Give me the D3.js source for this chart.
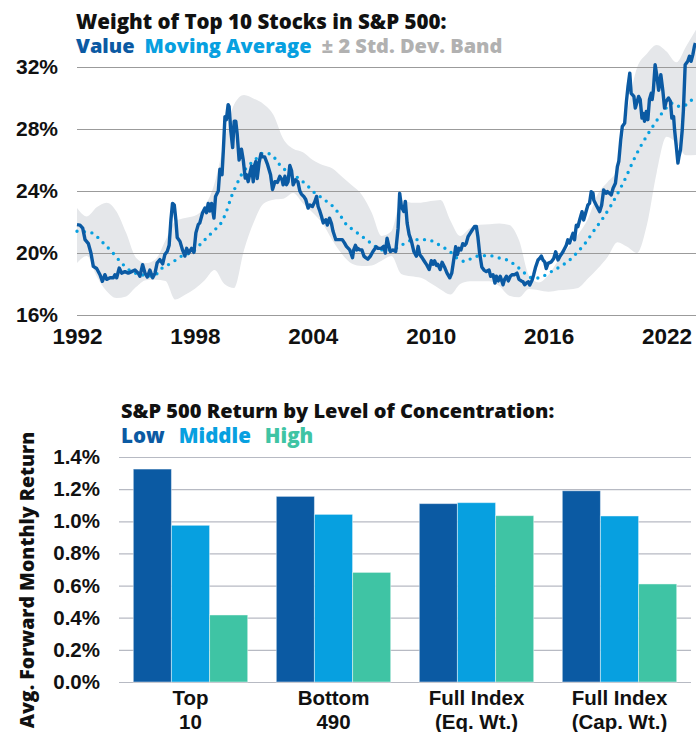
<!DOCTYPE html>
<html>
<head>
<meta charset="utf-8">
<script src="https://cdn.jsdelivr.net/npm/d3@7"></script>
<style>
  body { margin: 0; background: #fff; }
  svg { display: block; font-family: "Open Sans", "Noto Sans", sans-serif; font-weight: 800; }
</style>
</head>
<body>
<div id="chart"></div>
<script>
// top chart: weight of top 10 stocks (%)
var valueSeries = [
  [1992.00, 21.83], [1992.15, 21.8], [1992.29, 21.6], [1992.41, 20.86], [1992.58, 20.6], [1992.71, 20.0],
  [1992.83, 19.14], [1993.0, 19.0], [1993.17, 18.6], [1993.29, 18.17], [1993.42, 18.6], [1993.51, 18.3],
  [1993.68, 18.4], [1993.85, 18.4], [1993.93, 18.6], [1994.02, 18.4], [1994.15, 19.03], [1994.27, 18.7],
  [1994.44, 18.8], [1994.61, 18.7], [1994.78, 18.8], [1994.95, 18.9], [1995.12, 18.7], [1995.2, 18.5],
  [1995.34, 19.25], [1995.46, 18.7], [1995.58, 18.45], [1995.71, 18.9], [1995.85, 18.4], [1995.97, 18.7],
  [1996.08, 19.37], [1996.22, 19.57], [1996.36, 19.3], [1996.47, 19.9], [1996.59, 20.1], [1996.69, 20.5],
  [1996.78, 22.15], [1996.86, 23.2], [1996.95, 23.1], [1997.03, 22.15], [1997.1, 21.0], [1997.24, 20.75],
  [1997.37, 20.2], [1997.49, 19.8], [1997.58, 20.3], [1997.69, 20.0], [1997.83, 20.3], [1997.95, 20.04],
  [1998.05, 21.3], [1998.17, 21.83], [1998.25, 21.94], [1998.39, 22.6], [1998.51, 22.9], [1998.59, 22.6],
  [1998.68, 23.2], [1998.76, 22.7], [1998.85, 23.2], [1998.97, 22.25], [1999.05, 23.65], [1999.19, 24.0],
  [1999.27, 25.4], [1999.38, 25.05], [1999.45, 26.7], [1999.53, 28.8], [1999.6, 28.6], [1999.69, 29.57],
  [1999.74, 29.45], [1999.83, 27.85], [1999.92, 26.8], [2000.0, 28.5], [2000.08, 28.5], [2000.15, 27.7],
  [2000.25, 26.0], [2000.37, 26.7], [2000.46, 26.0], [2000.56, 24.84], [2000.63, 25.05], [2000.71, 24.6],
  [2000.8, 25.15], [2000.88, 25.6], [2000.97, 24.6], [2001.02, 25.6], [2001.1, 25.9], [2001.17, 24.8],
  [2001.27, 25.85], [2001.36, 26.4], [2001.44, 26.2], [2001.55, 26.2], [2001.7, 25.7], [2001.85, 25.05],
  [2001.95, 24.1], [2002.07, 24.6], [2002.2, 24.55], [2002.32, 24.95], [2002.44, 24.7], [2002.49, 24.4],
  [2002.58, 24.95], [2002.66, 24.4], [2002.74, 24.6], [2002.83, 25.65], [2002.92, 25.3], [2003.0, 24.4],
  [2003.12, 24.73], [2003.24, 24.6], [2003.34, 24.0], [2003.42, 23.8], [2003.54, 23.65], [2003.64, 23.45],
  [2003.76, 22.9], [2003.85, 23.1], [2003.98, 23.0], [2004.1, 23.3], [2004.19, 23.65], [2004.27, 23.0],
  [2004.36, 22.7], [2004.44, 22.37], [2004.53, 21.94], [2004.66, 22.15], [2004.74, 21.8], [2004.85, 22.25],
  [2004.95, 21.9], [2005.03, 21.4], [2005.17, 20.86], [2005.32, 20.86], [2005.5, 20.86], [2005.61, 20.65],
  [2005.71, 20.43], [2005.88, 20.2], [2006.02, 19.7], [2006.08, 20.2], [2006.17, 20.5], [2006.24, 20.2],
  [2006.29, 20.3], [2006.39, 20.2], [2006.5, 20.2], [2006.6, 19.8], [2006.69, 19.7], [2006.8, 19.6],
  [2006.93, 19.8], [2007.06, 20.1], [2007.23, 20.4], [2007.32, 20.3], [2007.49, 20.3], [2007.61, 20.43],
  [2007.69, 20.0], [2007.78, 20.95], [2007.86, 20.5], [2007.95, 20.1], [2008.08, 20.2], [2008.22, 20.1],
  [2008.34, 21.6], [2008.42, 23.85], [2008.51, 22.99], [2008.63, 22.68], [2008.71, 23.33], [2008.8, 21.93],
  [2008.9, 21.2], [2009.02, 20.75], [2009.14, 20.1], [2009.27, 19.8], [2009.36, 20.43], [2009.44, 19.9],
  [2009.56, 19.7], [2009.66, 19.5], [2009.78, 19.27], [2009.92, 18.93], [2010.03, 19.5], [2010.12, 19.27],
  [2010.2, 19.5], [2010.29, 19.2], [2010.36, 19.27], [2010.48, 18.93], [2010.58, 19.4], [2010.7, 19.1],
  [2010.83, 18.7], [2010.97, 18.4], [2011.07, 18.7], [2011.17, 19.55], [2011.27, 20.4], [2011.36, 19.9],
  [2011.44, 20.3], [2011.54, 20.2], [2011.63, 20.6], [2011.73, 20.5], [2011.8, 20.6], [2011.9, 21.05],
  [2012.02, 21.3], [2012.12, 21.5], [2012.24, 21.72], [2012.32, 21.72], [2012.4, 21.05], [2012.49, 19.98],
  [2012.6, 19.1], [2012.71, 18.9], [2012.83, 18.8], [2012.97, 18.9], [2013.05, 18.5], [2013.17, 18.6],
  [2013.27, 18.06], [2013.34, 18.5], [2013.44, 18.2], [2013.54, 18.5], [2013.68, 17.95], [2013.76, 18.3],
  [2013.85, 18.5], [2013.95, 18.2], [2014.05, 18.5], [2014.15, 18.6], [2014.27, 18.6], [2014.39, 18.7],
  [2014.49, 18.3], [2014.61, 18.2], [2014.7, 18.14], [2014.78, 17.95], [2014.9, 18.1], [2014.97, 18.14],
  [2015.04, 17.93], [2015.16, 18.25], [2015.24, 18.6], [2015.34, 19.1], [2015.46, 19.55], [2015.54, 19.65],
  [2015.63, 19.8], [2015.71, 19.55], [2015.8, 19.43], [2015.88, 19.0], [2015.97, 19.33], [2016.14, 19.43],
  [2016.26, 19.65], [2016.36, 20.08], [2016.48, 19.55], [2016.56, 19.75], [2016.73, 20.08], [2016.9, 20.5],
  [2016.98, 20.85], [2017.07, 20.65], [2017.15, 20.95], [2017.24, 21.27], [2017.32, 20.85], [2017.41, 21.8],
  [2017.49, 21.7], [2017.58, 22.13], [2017.7, 22.67], [2017.78, 22.13], [2017.88, 22.56], [2018.0, 23.1],
  [2018.08, 23.2], [2018.17, 23.96], [2018.26, 23.85], [2018.3, 23.4], [2018.42, 23.1], [2018.6, 22.67],
  [2018.7, 23.1], [2018.8, 24.07], [2018.92, 23.85], [2018.99, 23.96], [2019.1, 23.85], [2019.19, 23.75],
  [2019.28, 24.18], [2019.4, 24.5], [2019.5, 25.58], [2019.57, 25.9], [2019.67, 27.3], [2019.75, 28.16],
  [2019.87, 28.38], [2019.96, 29.78], [2020.04, 30.75], [2020.13, 31.6], [2020.2, 30.3], [2020.34, 30.1],
  [2020.41, 29.35], [2020.58, 30.1], [2020.66, 29.9], [2020.75, 28.7], [2020.83, 29.0], [2020.88, 28.5],
  [2020.97, 29.13], [2021.05, 28.6], [2021.13, 29.9], [2021.22, 30.3], [2021.27, 29.9], [2021.33, 30.5],
  [2021.42, 32.15], [2021.5, 31.5], [2021.6, 30.5], [2021.71, 31.5], [2021.81, 30.5], [2021.9, 29.35],
  [2021.98, 29.78], [2022.1, 30.0], [2022.2, 29.78], [2022.27, 28.7], [2022.36, 28.8], [2022.41, 27.95],
  [2022.49, 26.98], [2022.58, 25.8], [2022.63, 26.2], [2022.71, 26.65], [2022.8, 27.95], [2022.86, 29.24],
  [2022.95, 32.15], [2023.08, 32.37], [2023.17, 32.7], [2023.25, 32.37], [2023.34, 32.8], [2023.42, 33.34],
  [2023.47, 33.55]
];

var movingAverage = [
  [1992.0, 21.4], [1992.75, 21.3], [1993.25, 20.75], [1993.76, 20.1], [1994.27, 19.35], [1994.78, 18.8],
  [1995.3, 18.6], [1995.88, 18.5], [1996.3, 19.0], [1996.8, 19.35], [1997.32, 19.8], [1997.9, 20.1],
  [1998.42, 20.75], [1998.93, 21.4], [1999.36, 22.0], [1999.61, 22.7], [1999.86, 23.65], [2000.12, 24.4],
  [2000.37, 25.05], [2000.7, 25.6], [2001.05, 26.0], [2001.47, 26.45], [2001.9, 26.35], [2002.24, 25.8],
  [2002.58, 25.37], [2002.92, 25.16], [2003.25, 24.84], [2003.68, 24.4], [2004.0, 23.98], [2004.36, 23.65],
  [2004.7, 23.33], [2005.03, 23.0], [2005.37, 22.47], [2005.71, 21.83], [2006.05, 21.5], [2006.39, 21.18],
  [2006.73, 20.86], [2007.1, 20.5], [2007.5, 20.2], [2008.0, 20.2], [2008.42, 20.43], [2008.85, 20.75],
  [2009.27, 20.86], [2009.69, 20.86], [2010.12, 20.75], [2010.54, 20.43], [2010.97, 20.1], [2011.3, 19.7],
  [2011.73, 19.46], [2012.15, 19.7], [2012.58, 19.83], [2013.0, 19.83], [2013.42, 19.7], [2013.85, 19.57],
  [2014.27, 19.25], [2014.69, 18.8], [2015.0, 18.47], [2015.29, 18.36], [2015.71, 18.5], [2016.14, 18.8],
  [2016.56, 19.1], [2017.07, 19.55], [2017.49, 20.08], [2017.92, 20.73], [2018.34, 21.5], [2018.76, 22.24],
  [2019.19, 23.1], [2019.61, 24.07], [2019.95, 24.93], [2020.29, 25.9], [2020.63, 26.76], [2020.97, 27.5],
  [2021.3, 28.16], [2021.64, 28.8], [2021.98, 29.35], [2022.32, 29.67], [2022.66, 29.46], [2023.0, 29.56],
  [2023.47, 30.2]
];

// +/- 2 std. dev. band
var bandYears = [
  1992, 1992.5, 1993, 1993.5, 1994, 1994.5, 1995, 1995.5, 1996, 1996.5, 1997, 1997.5, 1998, 1998.5,
  1999, 1999.5, 2000, 2000.5, 2001, 2001.5, 2002, 2002.5, 2003, 2003.5, 2004, 2004.5, 2005, 2005.5,
  2006, 2006.5, 2007, 2007.5, 2008, 2008.5, 2009, 2009.5, 2010, 2010.5, 2011, 2011.5, 2012, 2012.5,
  2013, 2013.5, 2014, 2014.5, 2015, 2015.5, 2016, 2016.5, 2017, 2017.5, 2018, 2018.5, 2019, 2019.5,
  2020, 2020.5, 2021, 2021.5, 2022, 2022.5, 2023, 2023.5
];
var bandUpper = [
  22.9, 22.36, 22.95, 23.25, 22.7, 21.3, 19.7, 19.35, 19.6, 20.8, 22.05, 22.26, 22.4, 23.0,
  24.5, 27.2, 29.6, 30.2, 29.95, 29.6, 28.9, 27.35, 26.72, 26.5, 26.0, 25.68, 25.45, 24.9,
  24.35, 23.75, 22.6, 21.1, 21.4, 23.4, 23.25, 23.25, 23.35, 23.42, 22.1, 21.1, 21.6, 21.83,
  21.85, 21.9, 21.8, 20.8, 18.55, 18.1, 18.6, 19.55, 20.35, 21.2, 22.2, 23.8, 24.58, 25.4,
  29.1, 31.95, 32.85, 33.42, 33.0, 32.3, 33.34, 34.4
];
var bandLower = [
  19.35, 19.8, 18.5, 17.55, 17.1, 17.2, 17.8, 18.25, 18.28, 18.2, 17.0, 17.3, 17.7, 18.25,
  18.9, 18.0, 17.75, 20.2, 22.0, 23.2, 23.44, 23.5, 23.87, 23.2, 22.6, 21.9, 20.8, 19.9,
  19.3, 19.16, 19.2, 19.5, 19.8, 18.65, 18.5, 18.4, 18.05, 17.65, 17.32, 18.0, 18.17, 18.17,
  18.17, 17.85, 17.25, 17.15, 17.68, 17.6, 17.5, 17.6, 17.65, 17.75, 18.35, 19.0, 19.75, 20.7,
  20.4, 20.0, 21.8, 25.2, 27.5, 27.1, 26.3, 26.33
];

var yearTicks = [1992, 1998, 2004, 2010, 2016, 2022];
var weightTicks = [16, 20, 24, 28, 32];

// bottom chart: avg. forward monthly return (%)
var groups = ["Top|10", "Bottom|490", "Full Index|(Eq. Wt.)", "Full Index|(Cap. Wt.)"];
var levels = ["Low", "Middle", "High"];
var lowReturns = [1.325, 1.155, 1.11, 1.19];
var middleReturns = [0.975, 1.043, 1.116, 1.033];
var highReturns = [0.417, 0.682, 1.035, 0.61];
var returnTicks = [0, 0.2, 0.4, 0.6, 0.8, 1.0, 1.2, 1.4];

var colors = { Value: "#0b5aa3", Average: "#07a0e0", Band: "#e5e7ea", Low: "#0b5aa3", Middle: "#07a0e0", High: "#3fc4a4" };

var svg = d3.select("#chart").append("svg")
  .attr("width", 696)
  .attr("height", 732);

// ---------- top chart ----------
var x = d3.scaleLinear().domain([1992, 2023.5]).range([77, 696]);
var y = d3.scaleLinear().domain([16, 32]).range([315, 67]);

var topChart = svg.append("g");

topChart.append("text").attr("x", 76).attr("y", 29)
  .style("font-size", "20.5px").attr("fill", "#111")
  .text("Weight of Top 10 Stocks in S&P 500:");
var legend1 = topChart.append("text").attr("x", 76).attr("y", 53).style("font-size", "20px");
legend1.append("tspan").attr("fill", colors.Value).text("Value");
legend1.append("tspan").attr("dx", 10).attr("fill", colors.Average).text("Moving Average");
legend1.append("tspan").attr("dx", 10).attr("fill", "#b1b1b1").text("± 2 Std. Dev. Band");

// band
var bandData = bandYears.map(function (d, i) { return [d, bandLower[i], bandUpper[i]]; });
topChart.append("path")
  .datum(bandData)
  .attr("fill", colors.Band)
  .attr("d", d3.area()
    .curve(d3.curveMonotoneX)
    .x(function (d) { return x(d[0]); })
    .y0(function (d) { return y(d[1]); })
    .y1(function (d) { return y(d[2]); }));

// gridlines + y labels
var yAxis = topChart.append("g")
  .attr("transform", "translate(77,0)")
  .call(d3.axisLeft(y).tickValues(weightTicks).tickSize(-619).tickPadding(19)
    .tickFormat(function (d) { return d + "%"; }));
yAxis.select(".domain").remove();
yAxis.selectAll("line").attr("stroke", "#9b9b9b").attr("stroke-width", 1.2);
yAxis.selectAll("text").style("font-size", "21px").attr("fill", "#111");

var xAxis = topChart.append("g")
  .attr("transform", "translate(0,315)")
  .call(d3.axisBottom(x).tickValues(yearTicks).tickSize(0).tickPadding(13).tickFormat(d3.format("d")));
xAxis.select(".domain").remove();
xAxis.selectAll("text").style("font-size", "22.5px").attr("fill", "#111");

// moving average (dotted)
topChart.append("path")
  .datum(movingAverage)
  .attr("fill", "none")
  .attr("stroke", colors.Average)
  .attr("stroke-width", 3.4)
  .attr("stroke-linecap", "round")
  .attr("stroke-dasharray", "0 7.5")
  .attr("d", d3.line().curve(d3.curveMonotoneX)
    .x(function (d) { return x(d[0]); })
    .y(function (d) { return y(d[1]); }));

// value line
topChart.append("path")
  .datum(valueSeries)
  .attr("fill", "none")
  .attr("stroke", colors.Value)
  .attr("stroke-width", 3.4)
  .attr("stroke-linejoin", "round")
  .attr("d", d3.line()
    .x(function (d) { return x(d[0]); })
    .y(function (d) { return y(d[1]); }));

// ---------- bottom chart ----------
var x0 = d3.scaleBand().domain(groups).range([119, 691]).paddingInner(0.2).paddingOuter(0.1);
var x1 = d3.scaleBand().domain(levels).range([0, x0.bandwidth()]);
var yr = d3.scaleLinear().domain([0, 1.4]).range([682, 457]);

var bottomChart = svg.append("g");

bottomChart.append("text").attr("x", 121).attr("y", 418)
  .style("font-size", "20px").attr("fill", "#111")
  .text("S&P 500 Return by Level of Concentration:");
var legend2 = bottomChart.append("text").attr("x", 121).attr("y", 443).style("font-size", "20.5px");
levels.forEach(function (l, i) {
  legend2.append("tspan").attr("dx", i ? 14 : 0).attr("fill", colors[l]).text(l);
});

var yAxis2 = bottomChart.append("g")
  .attr("transform", "translate(119,0)")
  .call(d3.axisLeft(yr).tickValues(returnTicks).tickSize(-572).tickPadding(19)
    .tickFormat(function (d) { return d3.format(".1f")(d) + "%"; }));
yAxis2.select(".domain").remove();
yAxis2.selectAll("line").attr("stroke", "#b7bac3").attr("stroke-width", 1.2);
yAxis2.selectAll("text").style("font-size", "20.5px").attr("fill", "#111");

bottomChart.append("text")
  .attr("transform", "translate(34,580) rotate(-90)")
  .attr("text-anchor", "middle")
  .style("font-size", "19.5px").attr("fill", "#111")
  .text("Avg. Forward Monthly Return");

var rows = groups.map(function (g, i) {
  return { group: g, Low: lowReturns[i], Middle: middleReturns[i], High: highReturns[i] };
});

bottomChart.selectAll(".grp")
  .data(rows)
  .enter().append("g")
  .attr("class", "grp")
  .attr("transform", function (d) { return "translate(" + x0(d.group) + ",0)"; })
  .selectAll("rect")
  .data(function (d) { return levels.map(function (l) { return { key: l, value: d[l] }; }); })
  .enter().append("rect")
  .attr("x", function (d) { return x1(d.key); })
  .attr("y", function (d) { return yr(d.value); })
  .attr("width", x1.bandwidth())
  .attr("height", function (d) { return yr(0) - yr(d.value); })
  .attr("fill", function (d) { return colors[d.key]; })
  .attr("stroke", "#ffffff")
  .attr("stroke-opacity", 0.45)
  .attr("stroke-width", 1);

// group labels, two lines each
var xAxis2 = bottomChart.append("g")
  .attr("transform", "translate(0,682)")
  .call(d3.axisBottom(x0).tickSize(0).tickPadding(0));
xAxis2.select(".domain").remove();
xAxis2.selectAll("text")
  .attr("y", 0).attr("dy", null)
  .style("font-size", "20.5px").attr("fill", "#111")
  .each(function (d) {
    var t = d3.select(this).text(null);
    d.split("|").forEach(function (part, i) {
      t.append("tspan").attr("x", 0).attr("y", 23 + i * 24).text(part);
    });
  });
</script>
</body>
</html>
